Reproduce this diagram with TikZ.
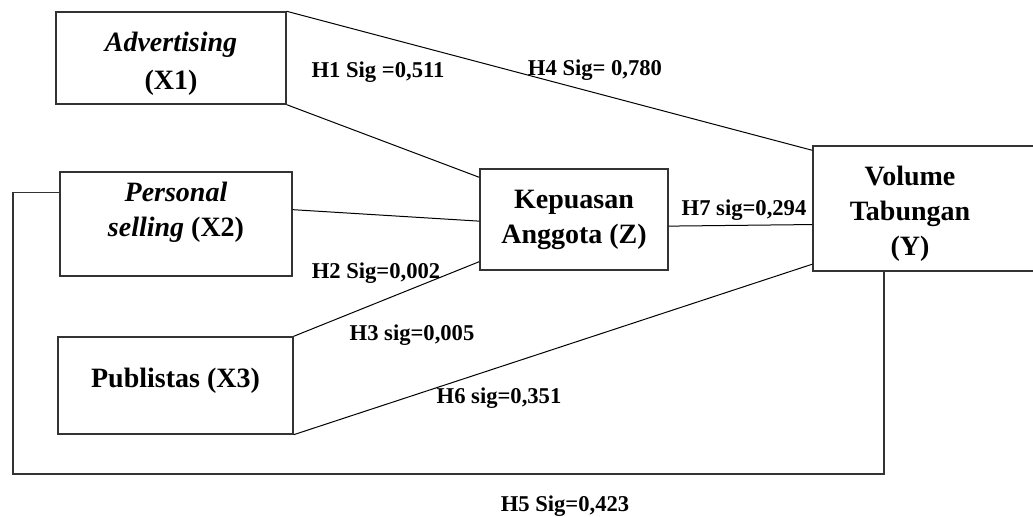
\documentclass[tikz,border=0pt]{standalone}
\usepackage{fontspec}
\setmainfont{Liberation Serif}
\usepackage{tikz}

\begin{document}
\begin{tikzpicture}[x=0.5pt, y=-0.5pt]
    % Define styles
    \tikzstyle{varbox} = [rectangle, draw=black!80, line width=0.7pt, align=center, inner sep=0pt, font=\bfseries\fontsize{14}{17.5}\selectfont]
    \tikzstyle{siglabel} = [inner sep=1pt, font=\bfseries\fontsize{11.3}{13.5}\selectfont]
    \tikzstyle{link} = [draw=black, line width=0.5pt]

    \useasboundingbox (0, 0) rectangle (1033, 517);

    % Variables
    \node[varbox, minimum width=115pt, minimum height=46pt, text height=34.6pt,
          font=\bfseries\fontsize{14}{19}\selectfont] (x1) at (171, 58) {\textit{Advertising}\\(X1)};
    \node[varbox, minimum width=116pt, minimum height=52pt, text depth=14.5pt] (x2) at (176, 224) {\textit{Personal}\\\textit{selling} (X2)};
    \node[varbox, minimum width=117.5pt, minimum height=48.5pt, text depth=8pt] (x3) at (175.5, 385.5) {Publistas (X3)};
    \node[varbox, minimum width=94pt, minimum height=50.5pt] (z) at (574, 219.5) {Kepuasan\\Anggota (Z)};
    \node[varbox, minimum width=113.5pt, minimum height=62.5pt] (y) at (926.5, 208.5)
        {\raisebox{-6.25pt}[0pt][0pt]{\begin{tabular}{@{}c@{}}Volume\\Tabungan\\(Y)\end{tabular}}\hspace*{16.5pt}};

    % Paths
    \draw[link] (x1.north east) -- (y.153);
    \draw[link] (x1.south east) -- (z.156);
    \draw[link] (x2.7) -- (z.181);
    \draw[link] (z.-4) -- (y.188);
    \draw[link] (x3.north east) -- (z.204);
    \draw[link] (x3.south east) -- (y.206);

    % Loop from X2 to Y
    \coordinate (loopL) at (13, 474);
    \coordinate (loopR) at (884, 474);
    \draw[link, line width=0.7pt, draw=black!80] (x2.165) -- (x2.165 -| loopL) -- (loopL) -- (loopR) -- (loopR |- y.south);

    % Labels
    \node[siglabel] (h1) at (378, 72) {H1 Sig =0,511};
    \node[siglabel] (h4) at (595, 70) {H4 Sig= 0,780};
    \node[siglabel] (h7) at (744, 210) {H7 sig=0,294};
    \node[siglabel] (h2) at (376, 273) {H2 Sig=0,002};
    \node[siglabel] (h3) at (412, 335) {H3 sig=0,005};
    \node[siglabel] (h6) at (499, 398) {H6 sig=0,351};
    \node[siglabel] (h5) at (565, 506) {H5 Sig=0,423};

\end{tikzpicture}
\end{document}
